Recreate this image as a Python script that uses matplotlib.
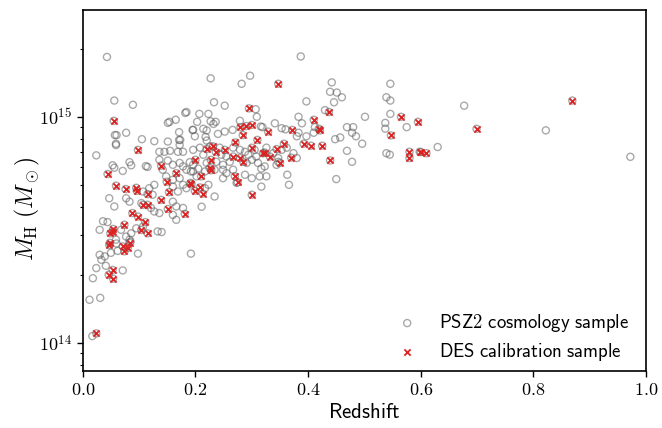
import numpy as np
import matplotlib
matplotlib.use("Agg")
import matplotlib.pyplot as plt

plt.rcParams["mathtext.fontset"] = "cm"

# PSZ2 clusters without DES calibration (redshift, mass in 1e14 Msun)
psz2_only_z = [
    0.043, 0.056, 0.089, 0.057, 0.060, 0.077, 0.059, 0.105, 0.127, 0.151,
    0.171, 0.173, 0.171, 0.151, 0.154, 0.165, 0.182, 0.184, 0.195, 0.172,
    0.227, 0.297, 0.282, 0.233, 0.252, 0.307, 0.309, 0.207, 0.223, 0.203,
    0.227, 0.232, 0.236, 0.196, 0.199, 0.214, 0.220, 0.218, 0.220, 0.279,
    0.316, 0.319, 0.341, 0.353, 0.252, 0.240, 0.266, 0.360, 0.380, 0.387,
    0.442, 0.439, 0.451, 0.460, 0.446, 0.397, 0.546, 0.539, 0.546, 0.546,
    0.537, 0.537, 0.575, 0.501, 0.430, 0.389, 0.383, 0.412, 0.410, 0.469,
    0.480, 0.478, 0.485, 0.448, 0.457, 0.496, 0.397, 0.383, 0.478, 0.469,
    0.450, 0.539, 0.545, 0.677, 0.822, 0.630, 0.972,
    0.017, 0.012, 0.031, 0.018, 0.024, 0.033, 0.039, 0.041, 0.071, 0.098,
    0.192, 0.060, 0.085, 0.030, 0.050, 0.062,
    0.024, 0.059, 0.053, 0.056, 0.071, 0.083, 0.086, 0.112, 0.115, 0.136,
    0.145, 0.155, 0.169, 0.178, 0.136, 0.151, 0.142, 0.160, 0.172, 0.178,
    0.184, 0.190, 0.192, 0.148, 0.160, 0.172, 0.178, 0.184, 0.160, 0.169,
    0.127, 0.118, 0.107, 0.124, 0.077, 0.083, 0.047, 0.056, 0.104, 0.121,
    0.127, 0.160, 0.166, 0.178, 0.160, 0.166, 0.136, 0.036, 0.044, 0.030,
    0.133, 0.140, 0.068, 0.086, 0.077, 0.107, 0.095, 0.059, 0.083,
    0.196, 0.208, 0.214, 0.226, 0.243, 0.246, 0.255, 0.267, 0.279, 0.288,
    0.294, 0.305, 0.308, 0.326, 0.338, 0.347, 0.353, 0.362, 0.374, 0.380,
    0.196, 0.205, 0.220, 0.237, 0.249, 0.261, 0.291, 0.300, 0.311, 0.317,
    0.323, 0.344, 0.347, 0.196, 0.202, 0.217, 0.234, 0.249, 0.249, 0.267,
    0.288, 0.300, 0.314, 0.326, 0.317, 0.363, 0.366, 0.217, 0.223, 0.234,
    0.211, 0.273, 0.255,
]
psz2_only_m = [
    18.4, 11.8, 11.3, 8.30, 8.30, 8.50, 7.60, 7.96, 7.80, 7.77,
    7.90, 7.90, 8.55, 9.40, 9.50, 9.70, 10.4, 10.5, 8.75, 7.50,
    14.8, 15.2, 14.0, 11.6, 11.2, 10.8, 10.0, 10.3, 10.3, 9.50,
    9.55, 9.30, 9.50, 8.75, 8.20, 8.85, 8.70, 8.15, 7.85, 9.60,
    9.06, 9.00, 9.36, 8.90, 8.60, 8.40, 8.75, 8.80, 8.20, 18.5,
    14.2, 12.9, 12.8, 12.2, 11.6, 11.7, 14.0, 12.2, 11.8, 10.3,
    9.40, 8.86, 9.00, 10.0, 10.7, 9.36, 10.0, 9.00, 8.50, 9.00,
    9.00, 8.50, 8.20, 7.96, 8.10, 7.60, 8.20, 8.50, 6.32, 7.07,
    5.30, 6.90, 6.80, 11.2, 8.71, 7.35, 6.65,
    1.07, 1.55, 1.58, 1.93, 2.14, 2.33, 2.41, 2.19, 2.09, 2.48,
    2.48, 2.75, 2.80, 2.45, 2.50, 2.55,
    6.75, 7.50, 6.10, 5.95, 5.76, 6.30, 6.10, 6.05, 6.00, 7.00,
    7.00, 7.07, 7.00, 7.00, 6.45, 6.40, 5.83, 6.13, 6.25, 6.03,
    5.83, 6.30, 5.73, 5.45, 5.26, 5.35, 5.00, 4.83, 4.91, 4.67,
    5.00, 4.83, 4.67, 4.52, 4.36, 4.21, 4.36, 4.01, 4.15, 3.95,
    3.81, 4.21, 4.01, 3.95, 3.68, 3.50, 3.75, 3.45, 3.42, 3.16,
    3.11, 3.09, 3.16, 3.05, 2.95, 3.27, 3.21, 2.86, 2.86,
    7.14, 7.30, 6.79, 7.40, 7.30, 6.79, 6.67, 7.30, 7.14, 7.00,
    6.79, 7.14, 6.67, 7.30, 6.90, 6.57, 7.14, 7.30, 6.90, 6.57,
    6.13, 5.90, 6.25, 6.32, 6.13, 6.32, 6.25, 6.45, 6.25, 5.90,
    6.03, 6.13, 6.32, 5.73, 5.45, 5.73, 5.83, 5.83, 5.35, 5.83,
    5.54, 5.35, 5.45, 5.45, 4.91, 5.54, 5.00, 4.83, 5.00, 4.44,
    4.00, 5.10, 5.63,
]

# DES calibration clusters (also part of PSZ2)
des_z = [
    0.024, 0.046, 0.053, 0.054, 0.047, 0.071, 0.080, 0.074, 0.083, 0.048,
    0.049, 0.054, 0.053, 0.074, 0.104, 0.115, 0.111, 0.088, 0.098, 0.107,
    0.115, 0.151, 0.181, 0.139, 0.115, 0.153, 0.149, 0.191, 0.166, 0.139,
    0.044, 0.059, 0.076, 0.095, 0.096, 0.098, 0.055,
    0.347, 0.295, 0.329, 0.280, 0.290, 0.300, 0.284, 0.372, 0.310, 0.271,
    0.231, 0.220, 0.357, 0.236, 0.252, 0.267, 0.279, 0.285, 0.300, 0.320,
    0.323, 0.332, 0.344, 0.350, 0.370, 0.200, 0.227, 0.225, 0.228, 0.210,
    0.270, 0.275, 0.193, 0.199, 0.208, 0.213, 0.300,
    0.439, 0.580, 0.580, 0.598, 0.565, 0.595, 0.547, 0.437, 0.410, 0.419,
    0.421, 0.392, 0.405, 0.425, 0.869, 0.699, 0.600, 0.610,
]
des_m = [
    1.10, 2.00, 2.10, 1.92, 2.71, 2.67, 2.63, 2.54, 2.77, 2.77,
    3.05, 3.19, 3.10, 3.33, 3.16, 3.05, 3.42, 3.75, 3.62, 4.08,
    4.08, 3.91, 3.72, 4.29, 4.55, 4.64, 5.16, 5.10, 5.63, 6.08,
    5.58, 4.96, 4.79, 4.85, 4.70, 7.14, 9.60,
    14.0, 10.9, 8.60, 9.00, 9.10, 9.20, 8.30, 8.75, 7.90, 7.70,
    7.40, 7.20, 7.60, 7.00, 7.14, 6.67, 6.57, 6.32, 7.30, 6.90,
    6.95, 6.67, 7.20, 6.25, 6.60, 6.45, 6.45, 5.94, 5.80, 5.45,
    5.45, 5.13, 5.05, 4.70, 4.87, 4.57, 4.52,
    6.41, 7.00, 6.57, 7.00, 10.0, 9.50, 8.27, 10.5, 9.70, 8.86,
    8.70, 7.60, 7.45, 7.45, 11.8, 8.85, 6.98, 6.90,
]

psz2_z = np.concatenate([psz2_only_z, des_z])
psz2_m = np.concatenate([psz2_only_m, des_m]) * 1e14
des_mass = np.array(des_m) * 1e14

fig = plt.figure(figsize=(6.62, 4.28), dpi=100)
ax = fig.add_axes([0.125, 0.1332, 0.851, 0.8435])

ax.scatter(psz2_z, psz2_m, s=26, facecolors="none", edgecolors="#555555",
           linewidths=1.0, alpha=0.5, label=r"$\mathsf{PSZ2\ cosmology\ sample}$")
ax.scatter(des_z, des_mass, s=20, marker="x", color="#dd2222",
           linewidths=1.3, label=r"$\mathsf{DES\ calibration\ sample}$")

ax.set_yscale("log")
ax.set_xlim(0, 1.0)
ax.set_ylim(7.5e13, 2.97e15)

xt = [0.0, 0.2, 0.4, 0.6, 0.8, 1.0]
ax.set_xticks(xt)
ax.set_xticklabels([r"$%.1f$" % v for v in xt])
ax.set_yticks([1e14, 1e15])
ax.set_yticklabels([r"$10^{14}$", r"$10^{15}$"])

ax.tick_params(axis="both", which="major", labelsize=13, length=4.5, width=1,
               pad=3)
ax.tick_params(axis="both", which="minor", length=2.5, width=0.8)
for sp in ax.spines.values():
    sp.set_linewidth(1.2)

ax.set_xlabel(r"$\mathsf{Redshift}$", fontsize=15, labelpad=2)
ax.set_ylabel(r"$M_{\rm H}\ (M_\odot)$", fontsize=17)
ax.yaxis.set_label_coords(-0.072, 0.45)

ax.legend(loc="lower right", bbox_to_anchor=(0.985, 0.0), frameon=False,
          fontsize=13.5, handletextpad=0.7, borderaxespad=0.05,
          labelspacing=0.35, markerscale=1.0)

fig.savefig("out.png", dpi=100)
